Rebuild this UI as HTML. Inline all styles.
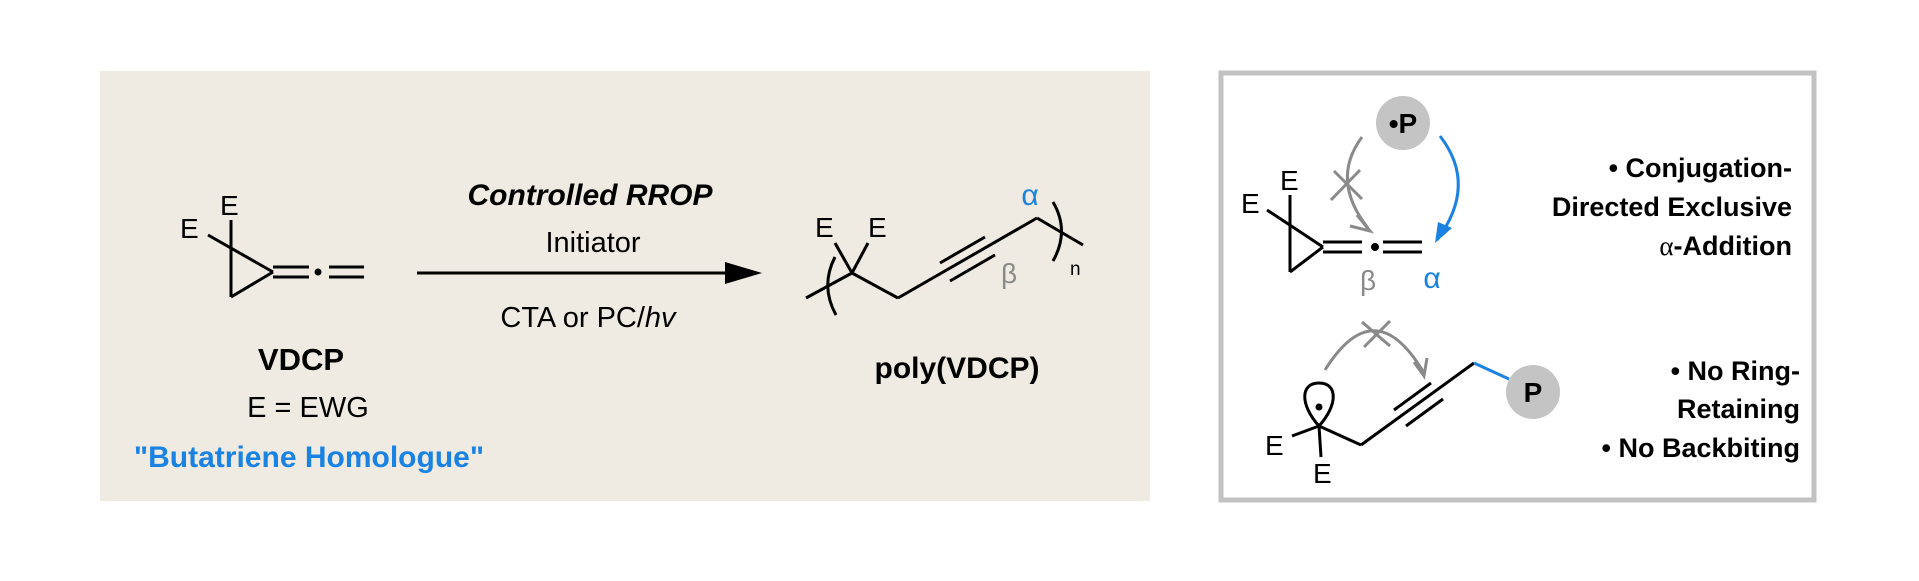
<!DOCTYPE html>
<html><head><meta charset="utf-8"><style>
html,body{margin:0;padding:0;background:#fff;}
svg{display:block;}
text{font-family:"Liberation Sans",Arial,sans-serif;}
</style></head><body>
<svg width="1919" height="581" viewBox="0 0 1919 581" xmlns="http://www.w3.org/2000/svg">
<rect x="0" y="0" width="1919" height="581" fill="#fff"/>
<!-- left panel -->
<rect x="100" y="71" width="1050" height="430" fill="#efebe2"/>
<g stroke="#000" stroke-width="3" fill="none" stroke-linecap="butt">
  <!-- VDCP monomer -->
  <line x1="231" y1="220" x2="231" y2="297"/>
  <line x1="208" y1="235" x2="273" y2="272"/>
  <line x1="231" y1="297" x2="273" y2="272"/>
  <line x1="273" y1="267" x2="309" y2="267"/>
  <line x1="273" y1="277" x2="309" y2="277"/>
  <line x1="329" y1="267" x2="364" y2="267"/>
  <line x1="329" y1="277" x2="364" y2="277"/>
  <!-- arrow -->
  <line x1="417" y1="273" x2="730" y2="273"/>
  <!-- polymer -->
  <line x1="806" y1="298" x2="852" y2="273"/>
  <line x1="852" y1="273" x2="835" y2="243"/>
  <line x1="852" y1="273" x2="868" y2="243"/>
  <line x1="852" y1="273" x2="898" y2="298"/>
  <line x1="898" y1="298" x2="1037" y2="218"/>
  <line x1="940" y1="263" x2="985" y2="237"/>
  <line x1="950" y1="281" x2="995" y2="255"/>
  <line x1="1037" y1="218" x2="1083" y2="245"/>
  <path d="M835,257 Q820,286 836,315"/>
  <path d="M1053,202 Q1070,231 1053,261"/>
</g>
<circle cx="318" cy="272" r="3.5" fill="#000"/>
<polygon points="762,273 725,262 725,284" fill="#000"/>
<text x="180" y="238" font-size="28">E</text>
<text x="220" y="215" font-size="28">E</text>
<text x="815" y="237" font-size="28">E</text>
<text x="868" y="237" font-size="28">E</text>
<text x="1030" y="205" font-size="30" fill="#1a82e2" text-anchor="middle" font-family="Liberation Serif, serif">α</text>
<text x="1009" y="283" font-size="28" fill="#8a8a8a" text-anchor="middle" font-family="Liberation Serif, serif">β</text>
<text x="1070" y="275" font-size="19">n</text>
<text x="590" y="205" font-size="30" font-weight="bold" font-style="italic" text-anchor="middle">Controlled RROP</text>
<text x="593" y="252" font-size="29" text-anchor="middle">Initiator</text>
<text x="588" y="327" font-size="29" text-anchor="middle">CTA or PC/<tspan font-style="italic">hv</tspan></text>
<text x="301" y="370" font-size="31" font-weight="bold" text-anchor="middle">VDCP</text>
<text x="308" y="417" font-size="29" text-anchor="middle">E = EWG</text>
<text x="309" y="467" font-size="30" font-weight="bold" fill="#1a82e2" text-anchor="middle">"Butatriene Homologue"</text>
<text x="957" y="378" font-size="30" font-weight="bold" text-anchor="middle">poly(VDCP)</text>

<!-- right panel -->
<rect x="1221" y="73" width="593" height="427" fill="#fff" stroke="#c2c2c2" stroke-width="5"/>
<circle cx="1403" cy="123" r="27" fill="#c4c4c4"/>
<text x="1403" y="133" font-size="28" font-weight="bold" text-anchor="middle">•P</text>
<g stroke="#000" stroke-width="3" fill="none">
  <line x1="1290" y1="195" x2="1290" y2="272"/>
  <line x1="1267" y1="210" x2="1323" y2="247"/>
  <line x1="1290" y1="272" x2="1323" y2="247"/>
  <line x1="1323" y1="242" x2="1362" y2="242"/>
  <line x1="1323" y1="252" x2="1362" y2="252"/>
  <line x1="1383" y1="242" x2="1422" y2="242"/>
  <line x1="1383" y1="252" x2="1422" y2="252"/>
</g>
<circle cx="1375" cy="247" r="4" fill="#000"/>
<text x="1241" y="213" font-size="28">E</text>
<text x="1280" y="190" font-size="28">E</text>
<text x="1368" y="290" font-size="28" fill="#8a8a8a" text-anchor="middle" font-family="Liberation Serif, serif">β</text>
<text x="1432" y="288" font-size="30" fill="#1a82e2" text-anchor="middle" font-family="Liberation Serif, serif">α</text>
<!-- gray arc with X -->
<g stroke="#8a8a8a" stroke-width="3" fill="none">
  <path d="M1362,137 Q1330,180 1368,228"/>
  <line x1="1334" y1="171" x2="1362" y2="199"/>
  <line x1="1360" y1="170" x2="1331" y2="200"/>
  <path d="M1357,215 L1370,231 L1350,226"/>
</g>
<!-- blue arc -->
<g stroke="#1a82e2" stroke-width="3" fill="none">
  <path d="M1440,136 Q1478,185 1437,240"/>
</g>
<polygon points="1435,243 1438,222 1452,228" fill="#1a82e2"/>
<text x="1792" y="177" font-size="27" font-weight="bold" text-anchor="end">• Conjugation-</text>
<text x="1792" y="216" font-size="27" font-weight="bold" text-anchor="end">Directed Exclusive</text>
<text x="1792" y="255" font-size="27" font-weight="bold" text-anchor="end"><tspan font-weight="normal" font-family="Liberation Serif, serif">α</tspan>-Addition</text>

<!-- lower structure -->
<g stroke="#000" stroke-width="3" fill="none">
  <line x1="1319" y1="426" x2="1292" y2="436"/>
  <line x1="1319" y1="426" x2="1321" y2="457"/>
  <line x1="1319" y1="426" x2="1361" y2="445"/>
  <line x1="1361" y1="445" x2="1474" y2="363"/>
  <line x1="1394" y1="410" x2="1431" y2="383"/>
  <line x1="1406" y1="426" x2="1443" y2="399"/>
  <path d="M1319,426 C1300,405 1300,383 1319,383 C1338,383 1338,405 1319,426"/>
</g>
<circle cx="1319" cy="407" r="3.5" fill="#000"/>
<line x1="1474" y1="363" x2="1509" y2="379" stroke="#1a82e2" stroke-width="3"/>
<circle cx="1533" cy="392" r="27" fill="#c4c4c4"/>
<text x="1533" y="402" font-size="28" font-weight="bold" text-anchor="middle">P</text>
<text x="1265" y="455" font-size="28">E</text>
<text x="1313" y="483" font-size="28">E</text>
<g stroke="#8a8a8a" stroke-width="3" fill="none">
  <path d="M1325,370 Q1375,290 1424,373"/>
  <line x1="1362" y1="322" x2="1390" y2="346"/>
  <line x1="1390" y1="321" x2="1364" y2="347"/>
  <path d="M1414,362 L1424,376 L1427,358"/>
</g>
<text x="1800" y="380" font-size="27" font-weight="bold" text-anchor="end">• No Ring-</text>
<text x="1800" y="418" font-size="27" font-weight="bold" text-anchor="end">Retaining</text>
<text x="1800" y="457" font-size="27" font-weight="bold" text-anchor="end">• No Backbiting</text>
</svg>
</body></html>
